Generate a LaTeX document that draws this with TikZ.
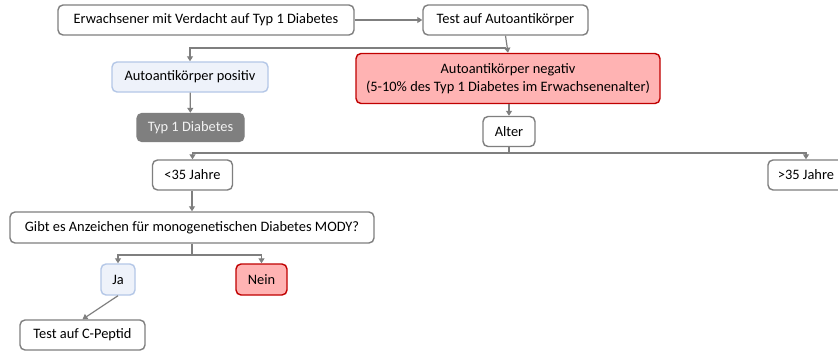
\documentclass[tikz,border=0pt]{standalone}
\usepackage{fontspec}
\setmainfont{Carlito}
\usetikzlibrary{arrows.meta}
\definecolor{edgegray}{HTML}{7F7F7F}
\definecolor{bluefill}{HTML}{EEF2FA}
\definecolor{blueedge}{HTML}{B4C7E7}
\definecolor{redfill}{HTML}{FFB3B3}
\definecolor{rededge}{HTML}{C00000}
\definecolor{lighttext}{HTML}{F2F2F2}
\tikzset{
  box/.style={draw=edgegray, line width=1.4pt, rounded corners=5pt, fill=white,
    inner sep=0pt, align=center, font=\fontsize{14.4}{17.5}\selectfont},
  bluebox/.style={box, draw=blueedge, fill=bluefill},
  redbox/.style={box, draw=rededge, fill=redfill},
  darkbox/.style={box, draw=edgegray, fill=edgegray, text=lighttext},
  sz/.style 2 args={minimum width=#1pt, minimum height=#2pt},
  conn/.style={draw=edgegray, line width=1.2pt},
  arr/.style={conn, -{Triangle[length=5pt,width=6pt]}}
}
\begin{document}
\begin{tikzpicture}[x=1pt,y=-1pt]
\clip (0,0) rectangle (838,351);
\fill[white] (0,0) rectangle (838,351);

\node[box,sz={296}{30}] (erw) at (206,20) {Erwachsener mit Verdacht auf Typ 1 Diabetes};
\node[box,sz={165}{30}] (test) at (505.5,20) {Test auf Autoantikörper};
\node[bluebox,sz={156}{30}] (pos) at (190,77) {Autoantikörper positiv};
\node[darkbox,sz={107}{28}] (typ) at (190.5,127.5) {Typ 1 Diabetes};
\node[redbox,sz={304}{50}] (neg) at (508,78.5) {Autoantikörper negativ\\(5-10\% des Typ 1 Diabetes im Erwachsenenalter)};
\node[box,sz={52}{30}] (alter) at (509,131.5) {Alter};
\node[box,sz={80}{30}] (lt) at (192.5,175) {<35 Jahre};
\node[box,sz={76}{30}] (gt) at (806,175) {>35 Jahre};
\node[box,sz={364}{31}] (gibt) at (192,227.5) {Gibt es Anzeichen für monogenetischen Diabetes MODY?};
\node[bluebox,sz={34}{31}] (ja) at (118,279.5) {Ja};
\node[redbox,sz={51}{31}] (nein) at (261.5,279.5) {Nein};
\node[box,sz={125}{30}] (cpep) at (82.5,335) {Test auf C-Peptid};

\coordinate (j1) at (506,48);
\coordinate (j2) at (509,153);
\coordinate (j3) at (192,255);

\draw[arr] (erw) -- (test);
\draw[arr] (test.south) -- (neg.north);
\draw[arr] (j1) -| (pos.north);
\draw[arr] (pos) -- (typ);
\draw[arr] (neg.south -| alter.north) -- (alter.north);
\draw[conn] (alter.south) -- (j2);
\draw[arr] (j2) -| (lt.north);
\draw[arr] (j2) -| (gt.north);
\draw[arr] (lt.south -| gibt.north) -- (gibt.north);
\draw[conn] (gibt.south) -- (j3);
\draw[arr] (j3) -| (ja.north);
\draw[arr] (j3) -| (nein.north);
\draw[arr] (ja.south) -- (cpep.north);
\end{tikzpicture}
\end{document}
